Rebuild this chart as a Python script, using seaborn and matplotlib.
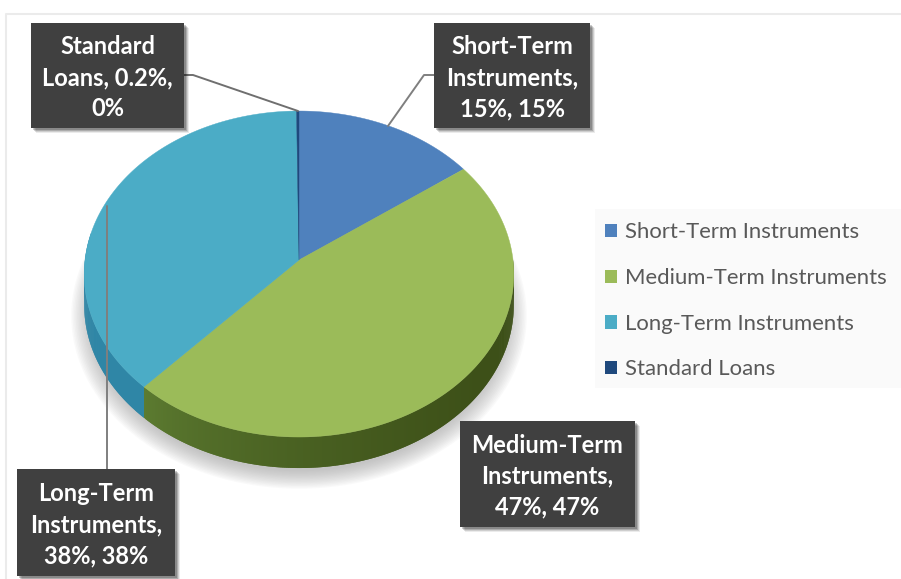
import matplotlib
matplotlib.use("Agg")
import matplotlib.pyplot as plt
from matplotlib.patches import Rectangle
import seaborn as sns
import numpy as np

categories = ['Short-Term Instruments', 'Medium-Term Instruments', 'Long-Term Instruments', 'Standard Loans']
shares = [15, 47, 38, 0.2]
box_labels = ['Short-Term\nInstruments,\n15%, 15%', 'Medium-Term\nInstruments,\n47%, 47%',
              'Long-Term\nInstruments,\n38%, 38%', 'Standard\nLoans, 0.2%,\n0%']

top_colors = ['#4f81bd', '#9bbb59', '#4bacc6', '#1f497d']
side_left = ['#2f5687', '#5f7f33', '#2f86a6', '#12305a']
side_right = ['#2f5687', '#3d5018', '#2a7f9f', '#12305a']

sns.set_theme(style='white')
plt.rcParams['font.family'] = ['Lato', 'DejaVu Sans']

fig = plt.figure(figsize=(9.01, 5.79), dpi=100, facecolor='white')
ax = fig.add_axes([0, 0, 1, 1])

wedges, _ = ax.pie(shares, startangle=90, counterclock=False, colors=top_colors)
ax.set_aspect('auto')
ax.set_xlim(0, 901)
ax.set_ylim(579, 0)
ax.axis('off')


def warp(theta, radius=1.0):
    # tilted disc with a bit of perspective, so the apex sits above the ellipse centre
    t = np.radians(theta)
    u = radius * np.cos(t)
    v = radius * np.sin(t)
    w = 1 + 0.086 * v
    return 299 + 214 * u / w, 260 - 161.8 * v / w


# page frame
ax.plot([6, 6, 901], [579, 14, 14], color='#ebebeb', lw=1.5, zorder=1)

# soft shadow under the pie
for r in np.linspace(1.06, 0.97, 14):
    sx, sy = warp(np.linspace(0, 360, 200), r)
    ax.fill(sx, sy + 40, color='#999999', alpha=0.05, lw=0, zorder=2)

# side wall
depth = 31
for i, w_ in enumerate(wedges):
    w_.set_visible(False)
    ts = np.linspace(w_.theta1, w_.theta2, int((w_.theta2 - w_.theta1) * 2) + 2)
    step = ts[1] - ts[0]
    for a in ts[:-1]:
        mid = (a + step / 2) % 360
        if not 170 < mid < 370:
            continue
        # each strip runs a little into the next one, hides the seams
        xa, ya = warp(np.array([a, min(a + step * 2, w_.theta2)]))
        frac = np.clip((xa.mean() - 140) / 340, 0, 1) ** 0.6
        col = np.array(matplotlib.colors.to_rgb(side_left[i])) * (1 - frac) + \
            np.array(matplotlib.colors.to_rgb(side_right[i])) * frac
        ax.fill([xa[0], xa[1], xa[1], xa[0]], [ya[0], ya[1], ya[1] + depth, ya[0] + depth],
                color=col, lw=0, zorder=3)

# top face
for i, w_ in enumerate(wedges):
    ts = np.linspace(w_.theta1, w_.theta2, 200)
    xs, ys = warp(ts)
    ax.fill(np.r_[299, xs], np.r_[260, ys], color=top_colors[i], lw=0.3, zorder=4)

# leader lines
ax.plot([434, 424, 388], [75, 75, 126], color='#7f7f7f', lw=1.4, zorder=5)
ax.plot([184, 193, 298], [75, 75, 111], color='#6f6f6f', lw=1.4, zorder=5)
ax.plot([107, 107], [469, 206], color='#7f7f7f', lw=1.4, zorder=5)

# data label boxes
boxes = [(434, 23, 156, 105), (460, 421, 175, 106), (17, 469, 158, 107), (31, 23, 153, 105)]
for (bx, by, bw, bh), label in zip(boxes, box_labels):
    for off, alpha in zip([5, 4, 3, 2], [0.08, 0.12, 0.16, 0.2]):
        ax.add_patch(Rectangle((bx + off, by + off), bw, bh, fc='black', ec='none', alpha=alpha, zorder=6))
    ax.add_patch(Rectangle((bx, by), bw, bh, fc='#404040', ec='none', zorder=7))
    ax.text(bx + bw / 2, by + bh / 2 + 2, label, color='white', fontsize=17, fontweight='bold',
            ha='center', va='center', linespacing=1.42, zorder=8)

# legend
ax.add_patch(Rectangle((595, 209), 306, 179, fc='#fafafa', ec='none', zorder=1))
handles = [Rectangle((0, 0), 1, 1, fc=c, ec='none') for c in top_colors]
ax.legend(handles, categories, loc='upper left', bbox_to_anchor=(605 / 901, 1 - 222.5 / 579),
          frameon=False, fontsize=15.9, labelcolor='#595959', handlelength=0.55, handleheight=0.55,
          handletextpad=0.35, labelspacing=1.16, borderpad=0, borderaxespad=0)

fig.savefig('out.png', dpi=100)
